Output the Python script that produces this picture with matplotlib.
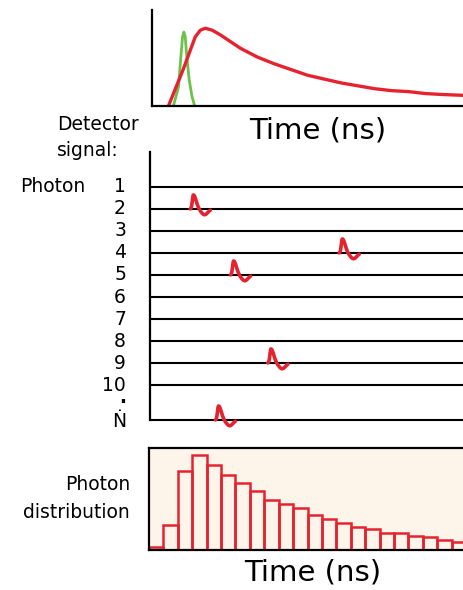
import numpy as np
import matplotlib
matplotlib.use('Agg')
import matplotlib.pyplot as plt
from matplotlib.patches import Rectangle

W, H = 464, 590

# top panel: excitation pulse (green) and fluorescence decay (red)
green_t = [1.50, 1.86, 2.02, 2.14, 2.23, 2.33, 2.44, 2.61, 2.80, 2.99]
green_i = [0.0, 0.20, 0.51, 0.72, 0.77, 0.72, 0.51, 0.27, 0.10, 0.0]
decay_t = [1.15, 2.21, 3.03, 3.39, 3.74, 4.21, 4.80, 5.50, 6.21, 7.38, 8.56,
           9.73, 10.91, 12.08, 13.26, 14.43, 15.61, 16.78, 17.96, 19.13, 20.31, 21.96]
decay_i = [0.0, 0.39, 0.72, 0.79, 0.81, 0.79, 0.74, 0.67, 0.60, 0.51, 0.44,
           0.38, 0.32, 0.28, 0.24, 0.21, 0.18, 0.16, 0.15, 0.13, 0.12, 0.11]

# middle panel: detector signal per photon
row_labels = ['1', '2', '3', '4', '5', '6', '7', '8', '9', '10', 'N']
row_pos = [1, 2, 3, 4, 5, 6, 7, 8, 9, 10, 11.59]
hit_rows = [2, 4, 5, 9, 'N']
hit_times = [2.80, 13.17, 5.60, 8.20, 4.55]

# bottom panel: histogram of photon arrival times
hist_counts = [10, 75, 235, 285, 255, 225, 200, 175, 150, 138, 125,
               105, 92, 82, 70, 62, 52, 50, 42, 38, 30, 25]

RED = '#e52330'
GREEN = '#6cc24a'
FS = 13.5


def ax_rect(left, top, right, bottom):
    return [left / W, 1 - bottom / H, (right - left) / W, (bottom - top) / H]


def fx(px):
    return px / W


def fy(py):
    return 1 - py / H


def pulse(t):
    rise = np.where(t < 0.22, np.exp(-((t - 0.22) / 0.1) ** 2),
                    np.exp(-((t - 0.22) / 0.27) ** 2))
    return 0.64 * rise - 0.26 * np.exp(-((t - 1.0) / 0.32) ** 2)


fig = plt.figure(figsize=(W / 100, H / 100), dpi=100)

# ---- top
ax1 = fig.add_axes(ax_rect(152, 10, 466, 106))
ax1.plot(green_t, green_i, color=GREEN, lw=2.0)
ax1.plot(decay_t, decay_i, color=RED, lw=2.4)
ax1.set_xlim(0, 22)
ax1.set_ylim(0, 1)
for s in ['top', 'right']:
    ax1.spines[s].set_visible(False)
for s in ['left', 'bottom']:
    ax1.spines[s].set_linewidth(1.6)
ax1.set_xticks([])
ax1.set_yticks([])
fig.text(fx(318), fy(130), 'Time (ns)', fontsize=21, ha='center', va='center')

# ---- middle
ax2 = fig.add_axes(ax_rect(150, 152, 466, 420))
ax2.set_xlim(0, 22)
ax2.set_ylim(11.59, -0.59)
for y in row_pos:
    ax2.axhline(y, color='black', lw=1.5, clip_on=False)
for r, t0 in zip(hit_rows, hit_times):
    y0 = row_pos[row_labels.index(str(r))]
    tt = np.linspace(0, 1.4, 60)
    ax2.plot(t0 + tt, y0 - pulse(tt), color=RED, lw=2.6,
             solid_capstyle='round', clip_on=False, zorder=3)
for s in ['top', 'right', 'bottom']:
    ax2.spines[s].set_visible(False)
ax2.spines['left'].set_linewidth(1.6)
ax2.set_xticks([])
ax2.set_yticks([])

tr = ax2.get_yaxis_transform()
for lab, y in zip(row_labels, row_pos):
    if lab == 'N':
        ax2.text(-0.076, 10.78, '·', transform=tr, ha='right', va='center',
                 fontsize=FS, fontweight='bold', clip_on=False)
        ax2.text(-0.076, 11.68, 'Ṅ', transform=tr, ha='right', va='center',
                 fontsize=FS, clip_on=False)
    else:
        ax2.text(-0.076, y, lab, transform=tr, ha='right', va='center',
                 fontsize=FS, clip_on=False)

fig.text(fx(57), fy(125), 'Detector', fontsize=FS, ha='left', va='center')
fig.text(fx(57), fy(150), 'signal:', fontsize=FS, ha='left', va='center')
fig.text(fx(20), fy(187), 'Photon', fontsize=FS, ha='left', va='center')

# ---- bottom
ax3 = fig.add_axes(ax_rect(149, 448, 466, 550))
ax3.set_facecolor('#fdf5e9')
for i, c in enumerate(hist_counts):
    ax3.add_patch(Rectangle((i, 0), 1, c, fill=False, edgecolor=RED, lw=1.8))
ax3.set_xlim(0, 22)
ax3.set_ylim(0, 305)
for s in ax3.spines.values():
    s.set_linewidth(1.6)
ax3.set_xticks([])
ax3.set_yticks([])

fig.text(fx(130), fy(485), 'Photon', fontsize=FS, ha='right', va='center')
fig.text(fx(130), fy(513), 'distribution', fontsize=FS, ha='right', va='center')
fig.text(fx(313), fy(573), 'Time (ns)', fontsize=21, ha='center', va='center')

fig.savefig('out.png', dpi=100)
